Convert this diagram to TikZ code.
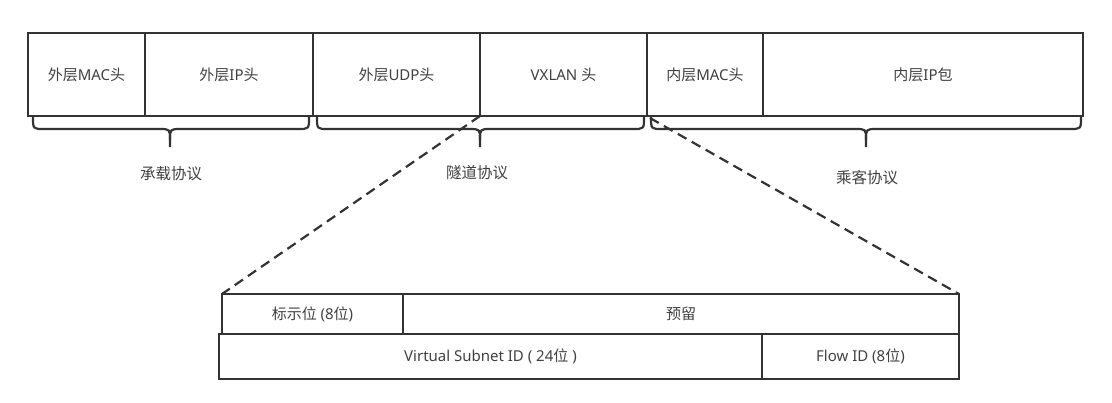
\documentclass[tikz,border=0pt]{standalone}
\usepackage{fontspec}
\setmainfont{Noto Sans}
\newfontfamily\cjk{Noto Sans CJK SC}
\begin{document}
\begin{tikzpicture}[x=1pt,y=-1pt,
  line/.style={draw=black!80,line width=2.2pt},
  cell/.style={line,rectangle,inner sep=0pt,outer sep=0pt,anchor=north west,
     font=\fontsize{15}{18}\selectfont,text=black!75},
  lbl/.style={font=\fontsize{15.5}{18}\selectfont\cjk,text=black!75,inner sep=0pt},
  brc/.style={draw=black!80,line width=2.2pt,line join=round},
  zoomline/.style={draw=black!80,line width=2.2pt,dash pattern=on 10pt off 6pt}]
\useasboundingbox (0,0) rectangle (1112,402);
% top row
\node[cell,minimum width=117pt,minimum height=83pt] (mac) at (28,33) {{\cjk 外层}MAC{\cjk 头}};
\node[cell,minimum width=168pt,minimum height=83pt] (ip) at (145,33) {{\cjk 外层}IP{\cjk 头}};
\node[cell,minimum width=167pt,minimum height=83pt] (udp) at (313,33) {{\cjk 外层}UDP{\cjk 头}};
\node[cell,minimum width=167pt,minimum height=83pt] (vx) at (480,33) {VXLAN {\cjk 头}};
\node[cell,minimum width=116pt,minimum height=83pt] (imac) at (647,33) {{\cjk 内层}MAC{\cjk 头}};
\node[cell,minimum width=320pt,minimum height=83pt] (iip) at (763,33) {{\cjk 内层}IP{\cjk 包}};
% braces
\newcommand\drawbrace[3]{%
  \draw[brc] (#1,117) .. controls (#1,129) .. (#1+11,129) -- (#2-11,129)
     .. controls (#2,129) .. (#2,140) -- (#2,147);
  \draw[brc] (#2,140) .. controls (#2,129) .. (#2+11,129) -- (#3-11,129)
     .. controls (#3,129) .. (#3,117);}
\drawbrace{33}{170}{309}
\drawbrace{317}{480}{644}
\drawbrace{651}{866}{1081}
\node[lbl] (l1) at (171,174) {承载协议};
\node[lbl] (l2) at (477,173) {隧道协议};
\node[lbl] (l3) at (867,178) {乘客协议};
% bottom detail
\node[cell,minimum width=181pt,minimum height=40pt] (flag) at (222,294) {{\cjk 标示位} (8{\cjk 位})};
\node[cell,minimum width=556pt,minimum height=40pt] (res) at (403,294) {{\cjk 预留}};
\node[cell,minimum width=543pt,minimum height=45pt] (vsid) at (219,334) {Virtual Subnet ID ( 24{\cjk 位} )};
\node[cell,minimum width=197pt,minimum height=45pt] (flow) at (762,334) {Flow ID (8{\cjk 位})};
% zoom lines
\draw[zoomline] (vx.south west) -- (flag.north west);
\draw[zoomline] ([xshift=3pt,yshift=-2pt]vx.south east) -- (res.north east);
\end{tikzpicture}
\end{document}
